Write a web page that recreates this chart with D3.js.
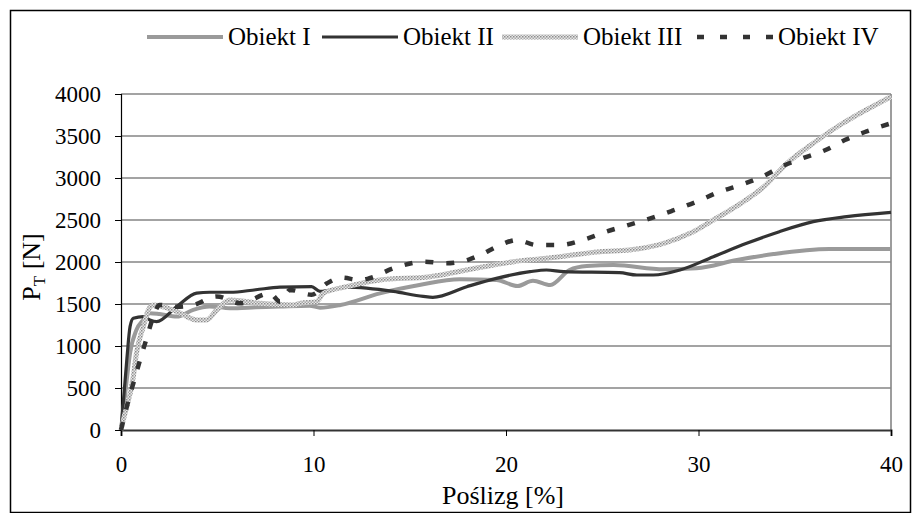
<!DOCTYPE html>
<html>
<head>
<meta charset="utf-8">
<script src="https://cdn.jsdelivr.net/npm/d3@7"></script>
<style>
  body { margin: 0; background: #fff; }
</style>
</head>
<body>
<svg id="chart" width="912" height="513"></svg>
<script>
// slip [%] and traction force [N] for each object
var slipI  = [0, 0.3, 0.47, 0.8, 1.16, 1.5, 2.0, 2.9, 3.75, 4.6, 5.66, 7.0, 8.26, 9.8, 10.34, 11.4, 13.45, 15.5, 17.6, 19.5, 20.6, 21.4, 22.3, 23.3, 24.2, 25.6, 28.2, 29.9, 32.0, 33.9, 36.8, 40.0];
var forceI = [0, 600, 913, 1190, 1310, 1390, 1380, 1350, 1430, 1470, 1450, 1460, 1470, 1480, 1456, 1488, 1627, 1726, 1794, 1786, 1714, 1777, 1726, 1905, 1952, 1964, 1913, 1925, 2024, 2095, 2155, 2155];

var slipII  = [0, 0.3, 0.47, 0.64, 1.16, 1.5, 1.85, 2.9, 3.93, 4.6, 5.66, 7.0, 8.26, 9.9, 10.34, 11.72, 14.15, 15.7, 16.2, 17.96, 19.5, 21.25, 22.1, 23.0, 25.9, 26.8, 27.65, 29.04, 30.77, 32.5, 34.2, 35.96, 37.7, 40.0];
var forceII = [0, 833, 1230, 1330, 1350, 1310, 1290, 1470, 1630, 1640, 1640, 1670, 1700, 1706, 1650, 1700, 1650, 1590, 1580, 1706, 1805, 1885, 1905, 1885, 1873, 1845, 1845, 1905, 2063, 2222, 2361, 2480, 2540, 2590];

var slipIII  = [0, 0.12, 0.64, 0.8, 1.16, 1.42, 1.68, 2.9, 3.93, 4.45, 4.97, 5.66, 7.22, 8.95, 9.3, 10.17, 10.5, 11.72, 13.45, 16.05, 17.96, 20.4, 22.1, 24.9, 26.4, 28.2, 29.56, 30.77, 32.2, 33.4, 34.6, 35.96, 37.35, 38.7, 40.0];
var forceIII = [0, 119, 635, 913, 1230, 1428, 1488, 1410, 1310, 1310, 1428, 1548, 1508, 1488, 1508, 1528, 1627, 1706, 1786, 1825, 1905, 2004, 2044, 2123, 2143, 2222, 2341, 2500, 2698, 2897, 3175, 3413, 3631, 3810, 3968];

var slipIV  = [0, 0.3, 0.64, 0.99, 1.33, 1.68, 2.0, 2.9, 3.75, 4.97, 6.2, 7.74, 8.26, 8.78, 9.9, 10.7, 11.46, 12.4, 12.9, 14.15, 14.7, 15.7, 16.9, 18.1, 18.65, 19.7, 20.56, 21.6, 22.8, 24.1, 25.2, 26.35, 27.5, 28.6, 29.9, 31.1, 32.2, 33.3, 34.3, 35.4, 36.6, 37.6, 38.7, 40.0];
var forceIV = [0, 277, 556, 833, 1091, 1349, 1488, 1468, 1488, 1590, 1508, 1627, 1528, 1667, 1610, 1746, 1813, 1786, 1806, 1925, 1964, 2004, 1984, 2032, 2083, 2202, 2262, 2202, 2202, 2270, 2361, 2440, 2520, 2607, 2718, 2837, 2917, 3016, 3135, 3234, 3333, 3452, 3552, 3651];

var names = ["Obiekt I", "Obiekt II", "Obiekt III", "Obiekt IV"];
var xTicks = [0, 10, 20, 30, 40];
var yTicks = [0, 500, 1000, 1500, 2000, 2500, 3000, 3500, 4000];

var serif = "'Liberation Serif'";
var svg = d3.select("#chart");

// outer frame
svg.append("rect")
    .attr("x", 10.5).attr("y", 10.5)
    .attr("width", 900).attr("height", 502)
    .attr("fill", "#fff")
    .attr("stroke", "#000")
    .attr("stroke-width", 1.5);

// hatched pattern for Obiekt III
var defs = svg.append("defs");
var pat = defs.append("pattern")
    .attr("id", "dots")
    .attr("patternUnits", "userSpaceOnUse")
    .attr("width", 3).attr("height", 3);
pat.append("rect").attr("width", 3).attr("height", 3).attr("fill", "#e6e6e6");
pat.append("rect").attr("width", 1.5).attr("height", 1.5).attr("fill", "#8c8c8c");
pat.append("rect").attr("x", 1.5).attr("y", 1.5).attr("width", 1.5).attr("height", 1.5).attr("fill", "#a8a8a8");

var xScale = d3.scaleLinear().domain([0, 40]).range([121, 891]);
var yScale = d3.scaleLinear().domain([0, 4000]).range([430, 94]);

// gridlines
svg.append("g")
    .selectAll("line")
    .data(yTicks.filter(d => d > 0))
    .enter().append("line")
    .attr("x1", xScale(0)).attr("x2", xScale(40))
    .attr("y1", d => yScale(d)).attr("y2", d => yScale(d))
    .attr("stroke", "#858585")
    .attr("stroke-width", 1.6);

// right edge of plot
svg.append("line")
    .attr("x1", xScale(40)).attr("x2", xScale(40))
    .attr("y1", yScale(4000)).attr("y2", yScale(0))
    .attr("stroke", "#858585")
    .attr("stroke-width", 1.6);

// axes
var xAxis = d3.axisBottom(xScale).tickValues(xTicks).tickSize(6).tickPadding(20).tickFormat(d3.format("d"));
var yAxis = d3.axisLeft(yScale).tickValues(yTicks).tickSize(6).tickPadding(14).tickFormat(d3.format("d"));

var gx = svg.append("g")
    .attr("transform", "translate(0," + yScale(0) + ")")
    .call(xAxis);
gx.select(".domain").attr("stroke", "#333").attr("stroke-width", 2);
gx.selectAll(".tick line").attr("stroke", "#000");
gx.selectAll("text").style("font-family", serif).style("font-size", "23px").attr("fill", "#000");

var gy = svg.append("g")
    .attr("transform", "translate(" + xScale(0) + ",0)")
    .call(yAxis);
gy.select(".domain").attr("stroke", "#000").attr("stroke-width", 1.2);
gy.selectAll(".tick line").attr("stroke", "#000");
gy.selectAll("text").style("font-family", serif).style("font-size", "23px").attr("fill", "#000");

// axis titles
svg.append("text")
    .attr("x", 503).attr("y", 504)
    .attr("text-anchor", "middle")
    .style("font-family", serif)
    .style("font-size", "26px")
    .text("Poślizg [%]");

var yl = svg.append("text")
    .attr("transform", "translate(40,267) rotate(-90)")
    .attr("text-anchor", "middle")
    .style("font-family", serif)
    .style("font-size", "26px");
yl.append("tspan").text("P");
yl.append("tspan").attr("dy", 5).style("font-size", "17px").text("T");
yl.append("tspan").attr("dy", -5).text(" [N]");

// series
var series = [
    {name: names[0], xs: slipI, ys: forceI, stroke: "#9a9a9a", width: 4, dash: null},
    {name: names[1], xs: slipII, ys: forceII, stroke: "#333", width: 3.2, dash: null},
    {name: names[2], xs: slipIII, ys: forceIII, stroke: "url(#dots)", width: 5, dash: null},
    {name: names[3], xs: slipIV, ys: forceIV, stroke: "#333", width: 4.5, dash: "8,13"}
];

var line = d3.line()
    .x(d => xScale(d[0]))
    .y(d => yScale(d[1]))
    .curve(d3.curveMonotoneX);

series.forEach(function(s) {
    svg.append("path")
        .datum(s.xs.map((x, i) => [x, s.ys[i]]))
        .attr("d", line)
        .attr("fill", "none")
        .attr("stroke", s.stroke)
        .attr("stroke-width", s.width)
        .attr("stroke-dasharray", s.dash)
        .attr("stroke-linejoin", "round");
});

// legend
var legendX = [147, 322, 502, 697];
var legend = svg.append("g");
series.forEach(function(s, i) {
    legend.append("line")
        .attr("x1", legendX[i]).attr("x2", legendX[i] + 76)
        .attr("y1", 37).attr("y2", 37)
        .attr("stroke", s.stroke)
        .attr("stroke-width", s.width)
        .attr("stroke-dasharray", i === 3 ? "7,16" : s.dash);
    legend.append("text")
        .attr("x", legendX[i] + 81).attr("y", 45)
        .style("font-family", serif)
        .style("font-size", "25px")
        .text(s.name);
});
</script>
</body>
</html>
